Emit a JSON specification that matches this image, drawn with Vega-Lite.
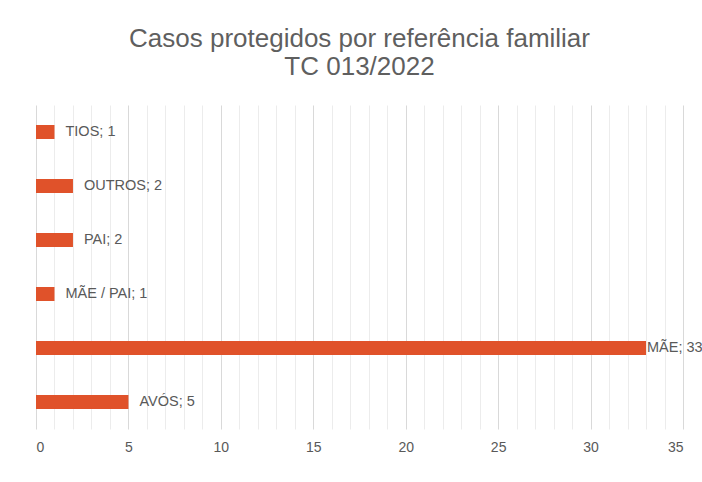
{
  "$schema": "https://vega.github.io/schema/vega-lite/v6.json",
  "width": 647,
  "height": 324,
  "autosize": {"type": "none"},
  "padding": {"left": 36, "top": 105, "right": 19, "bottom": 53},
  "background": "white",
  "title": {
    "text": ["Casos protegidos por referência familiar", "TC 013/2022"],
    "font": "Liberation Sans",
    "fontSize": 26,
    "fontWeight": "normal",
    "color": "#5f5f5f",
    "lineHeight": 28,
    "anchor": "middle",
    "offset": 25
  },
  "data": {
    "values": [
      {"categoria": "TIOS", "casos": 1},
      {"categoria": "OUTROS", "casos": 2},
      {"categoria": "PAI", "casos": 2},
      {"categoria": "MÃE / PAI", "casos": 1},
      {"categoria": "MÃE", "casos": 33},
      {"categoria": "AVÓS", "casos": 5}
    ]
  },
  "transform": [
    {"calculate": "datum.categoria + '; ' + datum.casos", "as": "rotulo"}
  ],
  "encoding": {
    "y": {
      "field": "categoria",
      "type": "nominal",
      "sort": ["TIOS", "OUTROS", "PAI", "MÃE / PAI", "MÃE", "AVÓS"],
      "scale": {"paddingInner": 0.74, "paddingOuter": 0.37},
      "axis": null
    },
    "x": {
      "field": "casos",
      "type": "quantitative",
      "scale": {"domain": [0, 35], "nice": false},
      "axis": {
        "title": null,
        "values": [0,1,2,3,4,5,6,7,8,9,10,11,12,13,14,15,16,17,18,19,20,21,22,23,24,25,26,27,28,29,30,31,32,33,34,35],
        "labelExpr": "datum.value % 5 === 0 ? datum.label : ''",
        "labelFont": "Liberation Sans",
        "labelFontSize": 14,
        "labelColor": "#595959",
        "labelPadding": 11,
        "ticks": false,
        "domain": false,
        "grid": true,
        "gridColor": {"condition": {"test": "datum.value % 5 === 0", "value": "#d9d9d9"}, "value": "#ececec"},
        "gridWidth": 1
      }
    }
  },
  "layer": [
    {"mark": {"type": "bar", "color": "#E0522A"}},
    {
      "transform": [{"filter": "datum.categoria !== 'MÃE'"}],
      "mark": {"type": "text", "align": "left", "dx": 11, "font": "Liberation Sans", "fontSize": 14.5, "color": "#595959"},
      "encoding": {"text": {"field": "rotulo"}}
    },
    {
      "transform": [{"filter": "datum.categoria === 'MÃE'"}],
      "mark": {"type": "text", "align": "left", "dx": 1, "font": "Liberation Sans", "fontSize": 14.5, "color": "#595959"},
      "encoding": {"text": {"field": "rotulo"}}
    }
  ],
  "config": {"view": {"stroke": null}}
}
